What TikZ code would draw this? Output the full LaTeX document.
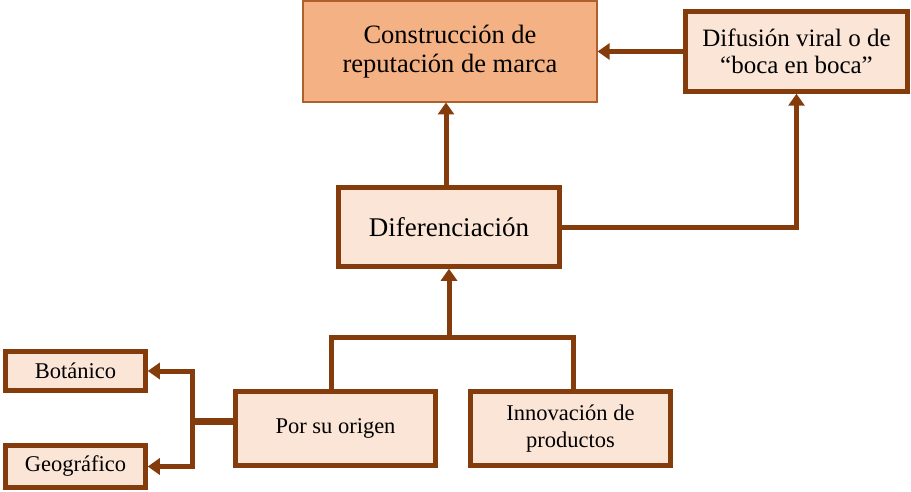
\documentclass[tikz,border=0pt]{standalone}
\usepackage{fontspec}
\setmainfont{Liberation Serif}
\usetikzlibrary{arrows.meta}
\definecolor{brn}{HTML}{843C0C}
\definecolor{lfill}{HTML}{FBE5D6}
\definecolor{tfill}{HTML}{F4B183}
\definecolor{tline}{HTML}{B0602A}
\begin{document}
\begin{tikzpicture}[x=1pt,y=-1pt,
  box/.style={draw=brn,line width=4.5pt,fill=lfill,inner sep=0pt,align=center,text=black},
  topbox/.style={draw=tline,line width=1.2pt,fill=tfill,inner sep=0pt,align=center,text=black},
  conn/.style={draw=brn,line width=5pt},
  arr/.style={conn,-{Triangle[length=12pt,width=16pt]}},
  thickconn/.style={draw=brn,line width=7pt}]
\useasboundingbox (0,0) rectangle (911,492);
\node[topbox,minimum width=294pt,minimum height=101pt,font=\fontsize{26.5}{29}\selectfont] (top) at (450,51.5) {Construcción de\\reputación de marca};
\node[box,minimum width=222pt,minimum height=80pt,font=\fontsize{25}{27}\selectfont] (dif) at (796.5,51.5) {Difusión viral o de\\“boca en boca”};
\node[box,minimum width=221pt,minimum height=79pt,font=\fontsize{27}{30}\selectfont] (difer) at (449,227) {Diferenciación};
\node[box,minimum width=200pt,minimum height=74pt,font=\fontsize{22.5}{27}\selectfont] (por) at (335.5,428.5) {Por su origen};
\node[box,minimum width=200pt,minimum height=74pt,font=\fontsize{22.5}{27}\selectfont] (inn) at (570.5,428.5) {Innovación de\\productos};
\node[box,minimum width=140pt,minimum height=39pt,font=\fontsize{22.5}{27}\selectfont] (bot) at (75.5,371) {Botánico};
\node[box,minimum width=140pt,minimum height=42pt,font=\fontsize{22.5}{27}\selectfont] (geo) at (75.5,466.5) {Geográfico};
\coordinate (pl) at (331,337);
\coordinate (pr) at (573,337);
\coordinate (jl) at (192,421);
\draw[arr] (dif.west) -- (dif.west -| top.east);
\draw[arr] (446,185) -- (446,102.5);
\draw[arr] (difer.east) -| (dif.south);
\draw[conn] (pl |- por.north) -- (pl) -- (pr) -- (pr |- inn.north);
\draw[arr] (difer.south |- pl) -- (difer.south);
\draw[thickconn] (por.west |- jl) -- (jl);
\draw[arr] (jl) |- (bot.east);
\draw[arr] (jl) |- (geo.east);
\end{tikzpicture}
\end{document}
